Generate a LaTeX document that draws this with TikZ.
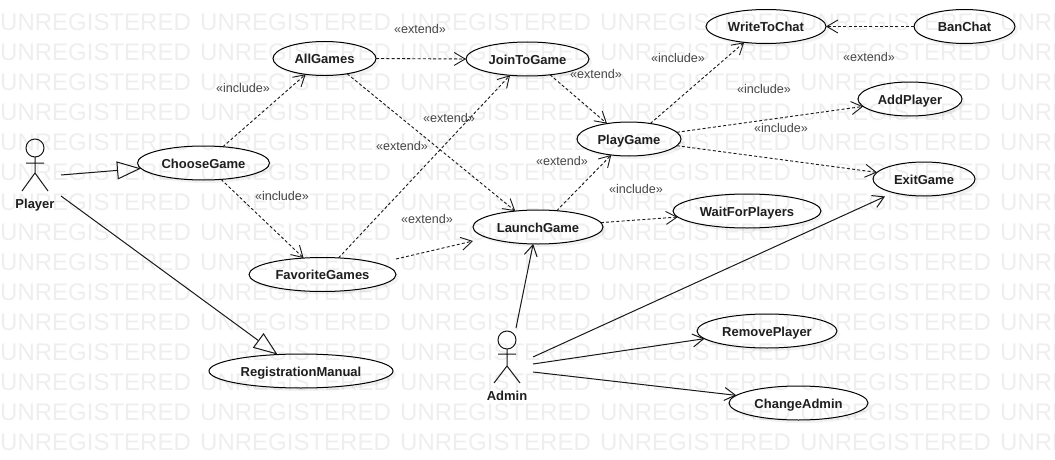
\documentclass[tikz,border=0pt]{standalone}
\usepackage{fontspec}
\setmainfont{Liberation Sans}
\usetikzlibrary{shapes.geometric,arrows.meta,shadows}
\tikzset{
  ucase/.style={ellipse,draw=black,fill=white,line width=1pt,inner sep=0pt,outer sep=0pt,
    minimum height=34pt,font=\fontsize{13}{15}\selectfont\bfseries,text=black!88,
    text height=12pt,text depth=2pt,
    drop shadow={opacity=.10,shadow xshift=3pt,shadow yshift=-3pt}},
  stereo/.style={font=\fontsize{12.6}{15}\selectfont,text=black!72,inner sep=0pt,text height=10.5pt,text depth=2pt},
  actorname/.style={font=\fontsize{13}{15}\selectfont\bfseries,text=black!88,inner sep=0pt,text height=11pt,text depth=2pt},
  dep/.style={line width=.9pt,dash pattern=on 3pt off 2.2pt,-{Straight Barb[length=11pt,width=13pt,line width=.9pt]},black!90},
  assoc/.style={line width=1pt,-{Straight Barb[length=11pt,width=13pt,line width=1pt]},black!90},
  gener/.style={line width=1pt,-{Triangle[open,length=24pt,width=18pt,fill=white,line width=1pt]},black!90},
  stick/.style={line width=1pt,black!90},
  wmark/.style={font=\fontsize{24}{26}\selectfont,text=black,text opacity=.065,inner sep=0pt,anchor=west},
}
\begin{document}
\begin{tikzpicture}[x=1pt,y=-1pt]
\useasboundingbox (0,0) rectangle (1055,460);
\fill[white] (0,0) rectangle (1055,460);

% use cases
\node[ucase,minimum width=132pt] (ChooseGame) at (203.5,163) {ChooseGame};
\node[ucase,minimum width=103pt] (AllGames) at (324.5,58.5) {AllGames};
\node[ucase,minimum width=123pt] (JoinToGame) at (527.5,59) {JoinToGame};
\node[ucase,minimum width=104pt] (PlayGame) at (629,139) {PlayGame};
\node[ucase,minimum width=130pt] (LaunchGame) at (538,227) {LaunchGame};
\node[ucase,minimum width=147pt] (FavoriteGames) at (322.5,274.5) {FavoriteGames};
\node[ucase,minimum width=184pt] (RegistrationManual) at (301,371) {RegistrationManual};
\node[ucase,minimum width=120pt] (WriteToChat) at (766,26.5) {WriteToChat};
\node[ucase,minimum width=101pt] (BanChat) at (964.5,26.5) {BanChat};
\node[ucase,minimum width=104pt] (AddPlayer) at (910,99) {AddPlayer};
\node[ucase,minimum width=102pt] (ExitGame) at (924,179) {ExitGame};
\node[ucase,minimum width=148pt] (WaitForPlayers) at (747,211) {WaitForPlayers};
\node[ucase,minimum width=140pt] (RemovePlayer) at (767,331) {RemovePlayer};
\node[ucase,minimum width=139pt] (ChangeAdmin) at (798.5,403) {ChangeAdmin};

% actors
\draw[stick] (35,148) circle (9pt);
\draw[stick] (26,163) -- (44,163) (35,157) -- (35,173) (22,191) -- (35,173) -- (48,191);
\node[actorname] (Player) at (35,204) {Player};
\draw[stick] (507,340) circle (9pt);
\draw[stick] (498,354) -- (516,354) (507,349) -- (507,366) (494,383) -- (507,366) -- (520,383);
\node[actorname] (Admin) at (507,396) {Admin};

% free connector ends
\coordinate (playerA) at (61,175);
\coordinate (playerB) at (61,196);
\coordinate (adminUp) at (516,328);
\coordinate (adminA) at (533,357);
\coordinate (adminB) at (533,364);
\coordinate (adminC) at (533,372);
\coordinate (exitIn) at (885,196.5);
\coordinate (favOut) at (396,259);
\coordinate (launchIn) at (473,241);

% generalisations
\draw[gener] (playerA) -- (ChooseGame.185);
\draw[gener] (playerB) -- (RegistrationManual.145);

% dependencies
\draw[dep] (ChooseGame.40) -- (AllGames.220);
\draw[dep] (ChooseGame.-43) -- (FavoriteGames.139);
\draw[dep] (AllGames.0) -- (JoinToGame.180);
\draw[dep] (AllGames.-34) -- (LaunchGame.145);
\draw[dep] (FavoriteGames.46) -- (JoinToGame.223);
\draw[dep] (favOut) -- (launchIn);
\draw[dep] (JoinToGame.-35) -- (PlayGame.145);
\draw[dep] (LaunchGame.41) -- (PlayGame.222);
\draw[dep] (LaunchGame.4) -- (WaitForPlayers.185);
\draw[dep] (PlayGame.36) -- (WriteToChat.216);
\draw[dep] (PlayGame.8) -- (AddPlayer.189);
\draw[dep] (PlayGame.-8) -- (ExitGame.172);
\draw[dep] (BanChat.180) -- (WriteToChat.0);

% associations
\draw[assoc] (adminUp) -- (LaunchGame.254);
\draw[assoc] (adminA) -- (exitIn);
\draw[assoc] (adminB) -- (RemovePlayer.187);
\draw[assoc] (adminC) -- (ChangeAdmin.173);

% stereotype labels
\node[stereo] (s1) at (420,29) {«extend»};
\node[stereo] (s2) at (243,88) {«include»};
\node[stereo] (s3) at (282,196) {«include»};
\node[stereo] (s4) at (449,118.5) {«extend»};
\node[stereo] (s5) at (402,146) {«extend»};
\node[stereo] (s6) at (427,219.5) {«extend»};
\node[stereo] (s7) at (596,74) {«extend»};
\node[stereo] (s8) at (562,161) {«extend»};
\node[stereo] (s9) at (636,189) {«include»};
\node[stereo] (s10) at (678,58.5) {«include»};
\node[stereo] (s11) at (764,89) {«include»};
\node[stereo] (s12) at (781,128.5) {«include»};
\node[stereo] (s13) at (869,57) {«extend»};

% watermark
\foreach \r in {0,...,14}{
  \foreach \c in {0,...,5}{
    \node[wmark] (wm\r-\c) at (200*\c,22+30*\r) {UNREGISTERED};
  }
}
\end{tikzpicture}
\end{document}
